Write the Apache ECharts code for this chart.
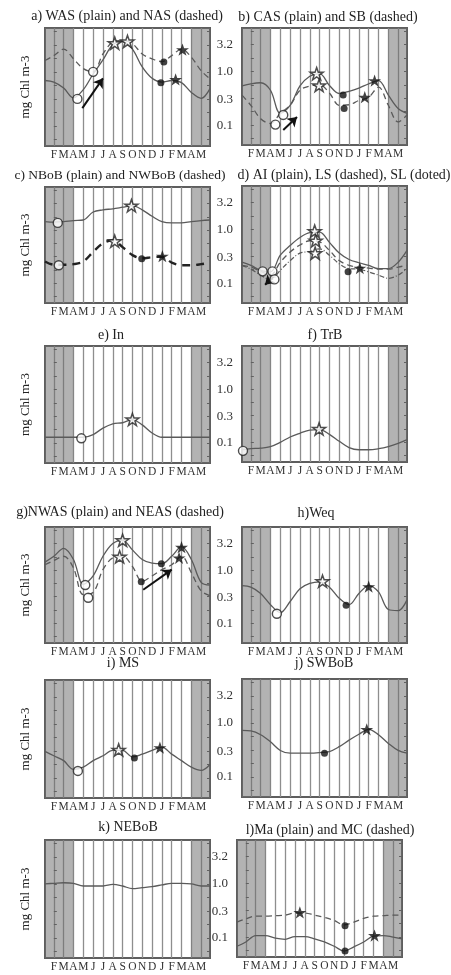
<!DOCTYPE html>
<html><head><meta charset="utf-8">
<script src="https://cdn.jsdelivr.net/npm/echarts@6/dist/echarts.min.js"></script>
<style>html,body{margin:0;padding:0;background:#fff}#c{width:451px;height:975px}</style>
</head><body><div id="c"></div>
<script>
// ---------- axes ----------
const months = ['F','M','A','M','J','J','A','S','O','N','D','J','F','M','A','M'];
const monthX = [0,1,2,3,4,5,6,7,8,9,10,11,12,13,14,15];
const sampleX = [-0.9,0,1,2,3,4,5,6,7,8,9,10,11,12,13,14,15,15.9];
const yTickLabels = ['0.1','0.3','1.0','3.2'];
const yMinorTicks = [-1.25,-1,-0.75,-0.5,-0.25,0,0.25,0.5,0.75];
const grayBefore = 2, grayAfter = 14;
// values: log10(mg Chl m-3) at sampleX
// a) WAS / NAS
const was = [-0.16,-0.19,-0.30,-0.48,-0.33,-0.04,0.22,0.50,0.56,0.42,0.09,-0.12,-0.19,-0.16,-0.20,-0.38,-0.49,-0.31];
const nas = [0.21,0.30,0.42,0.24,0.06,0.00,0.33,0.55,0.58,0.52,0.33,0.24,0.19,0.30,0.42,0.27,0.02,-0.13];
const aOpenCircle = [[2.4,-0.5],[4.0,0.0]];
const aOpenStar = [[6.2,0.53],[7.5,0.56]];
const aFilledCircle = [[10.9,-0.2],[11.2,0.18]];
const aFilledStar = [[12.4,-0.14],[13.1,0.41]];
const aArrow = [[2.9,-0.67],[5.0,-0.12]];
// b) CAS / SB
const cas = [-0.27,-0.23,-0.21,-0.35,-0.78,-0.63,-0.27,-0.09,-0.04,-0.26,-0.41,-0.37,-0.31,-0.23,-0.17,-0.44,-0.69,-0.78];
const sb = [-0.44,-0.63,-0.88,-0.97,-0.78,-0.63,-0.35,-0.27,-0.25,-0.40,-0.63,-0.62,-0.54,-0.48,-0.29,-0.63,-0.94,-0.81];
const bOpenCircle = [[3.3,-0.81],[2.5,-0.99]];
const bOpenStar = [[6.7,-0.04],[6.95,-0.26]];
const bFilledCircle = [[9.4,-0.44],[9.5,-0.69]];
const bFilledStar = [[12.6,-0.17],[11.6,-0.48]];
const bArrow = [[3.3,-1.09],[4.7,-0.85]];
// c) NBoB / NWBoB
const nbob = [0.16,0.15,0.16,0.18,0.19,0.34,0.38,0.40,0.43,0.46,0.38,0.26,0.16,0.135,0.135,0.16,0.18,0.19];
const nwbob = [-0.59,-0.65,-0.65,-0.64,-0.59,-0.41,-0.25,-0.19,-0.32,-0.47,-0.53,-0.51,-0.50,-0.61,-0.66,-0.66,-0.64,-0.61];
const cOpenCircle = [[0.4,0.135],[0.5,-0.66]];
const cOpenStar = [[7.9,0.46],[6.2,-0.21]];
const cFilledCircle = [[8.95,-0.54]];
const cFilledStar = [[11.05,-0.49]];
// d) AI / LS / SL
const ai = [-0.61,-0.67,-0.76,-0.79,-0.48,-0.30,-0.15,-0.06,-0.05,-0.24,-0.44,-0.56,-0.62,-0.67,-0.73,-0.73,-0.61,-0.39];
const ls = [-0.67,-0.70,-0.78,-0.85,-0.61,-0.42,-0.29,-0.21,-0.23,-0.39,-0.58,-0.67,-0.70,-0.72,-0.74,-0.74,-0.70,-0.67];
const sl = [-0.67,-0.74,-0.85,-0.94,-0.76,-0.58,-0.44,-0.41,-0.36,-0.48,-0.64,-0.73,-0.74,-0.79,-0.85,-0.91,-0.85,-0.73];
const dOpenCircle = [[1.2,-0.78],[2.2,-0.78],[2.4,-0.93]];
const dOpenStar = [[6.5,-0.03],[6.6,-0.21],[6.55,-0.44]];
const dFilledCircle = [[9.9,-0.79]];
const dFilledStar = [[11.1,-0.72]];
const dArrow = [[2.3,-0.88],[1.45,-1.03]];
// e) In
const inn = [-0.89,-0.89,-0.89,-0.89,-0.89,-0.84,-0.72,-0.64,-0.62,-0.56,-0.66,-0.81,-0.89,-0.89,-0.89,-0.89,-0.89,-0.89];
const eOpenCircle = [[2.8,-0.91]];
const eOpenStar = [[8.0,-0.56]];
// f) TrB
const trb = [-1.14,-1.12,-1.11,-1.08,-1.0,-0.90,-0.83,-0.77,-0.76,-0.85,-0.98,-1.10,-1.14,-1.14,-1.12,-1.08,-1.02,-0.95];
const fOpenCircle = [[-0.8,-1.16]];
const fOpenStar = [[6.95,-0.75]];
// g) NWAS / NEAS
const nwas = [0.15,0.26,0.41,0.20,-0.27,-0.11,0.26,0.50,0.56,0.38,0.20,0.13,0.12,0.26,0.44,0.20,-0.23,-0.28];
const neas = [0.10,0.18,0.26,0.04,-0.46,-0.42,0.01,0.23,0.26,0.07,-0.21,-0.11,0.01,0.10,0.26,-0.05,-0.39,-0.48];
const gOpenCircle = [[3.2,-0.28],[3.5,-0.52]];
const gOpenStar = [[7.0,0.56],[6.7,0.25]];
const gFilledCircle = [[10.95,0.12],[8.9,-0.22]];
const gFilledStar = [[13.0,0.43],[12.75,0.23]];
const gArrow = [[9.1,-0.37],[12.0,0.01]];
// h) Weq
const weq = [-0.29,-0.32,-0.44,-0.65,-0.80,-0.59,-0.35,-0.25,-0.22,-0.32,-0.53,-0.65,-0.44,-0.29,-0.41,-0.74,-0.76,-0.56];
const hOpenCircle = [[2.65,-0.82]];
const hOpenStar = [[7.3,-0.21]];
const hFilledCircle = [[9.7,-0.66]];
const hFilledStar = [[12.0,-0.31]];
// i) MS
const ms = [-0.51,-0.59,-0.68,-0.84,-0.80,-0.68,-0.59,-0.49,-0.49,-0.61,-0.56,-0.49,-0.43,-0.56,-0.68,-0.80,-0.86,-0.75];
const iOpenCircle = [[2.45,-0.87]];
const iOpenStar = [[6.6,-0.48]];
const iFilledCircle = [[8.2,-0.63]];
const iFilledStar = [[10.8,-0.44]];
// j) SWBoB
const swbob = [-0.14,-0.15,-0.22,-0.35,-0.51,-0.56,-0.56,-0.56,-0.55,-0.53,-0.44,-0.32,-0.21,-0.12,-0.22,-0.38,-0.51,-0.56];
const jFilledCircle = [[7.5,-0.56]];
const jFilledStar = [[11.8,-0.12]];
// k) NEBoB
const nebob = [0.0,0.01,0.02,0.01,-0.04,-0.04,-0.04,-0.01,-0.04,-0.09,-0.07,-0.05,-0.02,0.01,0.01,0.0,-0.04,-0.04];
// l) Ma / MC
const ma = [-1.17,-1.09,-0.97,-0.97,-1.02,-1.04,-0.99,-0.99,-1.03,-1.09,-1.17,-1.26,-1.18,-1.09,-0.98,-0.97,-1.0,-1.03];
const mc = [-0.72,-0.66,-0.61,-0.61,-0.60,-0.59,-0.55,-0.55,-0.59,-0.63,-0.69,-0.77,-0.72,-0.65,-0.61,-0.60,-0.59,-0.59];
const lFilledCircle = [[10.1,-1.26],[10.1,-0.79]];
const lFilledStar = [[5.5,-0.54],[13.1,-0.97]];

const titles = ['a) WAS (plain) and NAS (dashed)','b) CAS (plain) and SB (dashed)',
 'c) NBoB (plain) and NWBoB (dashed)','d) AI (plain), LS (dashed), SL (doted)',
 'e) In','f) TrB','g)NWAS (plain) and NEAS (dashed)','h)Weq','i) MS','j) SWBoB',
 'k) NEBoB','l)Ma (plain) and MC (dashed)'];
const yName = 'mg Chl m-3';

// ---------- styles / layout ----------
const SOLID = {type:'solid', width:1.3, color:'#5a5a5a'};
const DASH = {type:[6,4], width:1.3, color:'#5a5a5a'};
const DOT = {type:[5,2,1,2], width:1.2, color:'#5a5a5a'};
const BOLDDASH = {type:[8,6], width:2.4, color:'#222'};
const STAR = 'path://M50,2 L61.8,36.2 L97.6,36.2 L68.6,57.4 L79.4,91.6 L50,70.5 L20.6,91.6 L31.4,57.4 L2.4,36.2 L38.2,36.2 Z';
const FONT = 'Liberation Serif';
const Y_MIN = -1.37, Y_MAX = 0.81;

const layout = [
 {l:45,t:28,h:118,tx:127,ty:9,fs:14},{l:242,t:28,h:117,tx:328,ty:10,fs:14},
 {l:45,t:187,h:116,tx:120,ty:168,fs:13.5},{l:242,t:186,h:117,tx:344,ty:168,fs:14},
 {l:45,t:346,h:117,tx:111,ty:328,fs:14},{l:242,t:346,h:116,tx:325,ty:328,fs:14},
 {l:45,t:527,h:116,tx:120,ty:505,fs:14},{l:242,t:527,h:116,tx:316,ty:506,fs:14},
 {l:45,t:680,h:118,tx:123,ty:656,fs:14},{l:242,t:679,h:118,tx:324,ty:656,fs:14},
 {l:45,t:840,h:118,tx:128,ty:820,fs:14},{l:237,t:840,h:117,tx:330,ty:823,fs:14}
];
const W = 165;

const panels = [
 {curves:[[was,SOLID],[nas,DASH]], oc:aOpenCircle, os:aOpenStar, fc:aFilledCircle, fs:aFilledStar, arrows:[aArrow]},
 {curves:[[cas,SOLID],[sb,DASH]], oc:bOpenCircle, os:bOpenStar, fc:bFilledCircle, fs:bFilledStar, arrows:[bArrow]},
 {curves:[[nbob,SOLID],[nwbob,BOLDDASH]], oc:cOpenCircle, os:cOpenStar, fc:cFilledCircle, fs:cFilledStar, arrows:[]},
 {curves:[[ai,SOLID],[ls,DASH],[sl,DOT]], oc:dOpenCircle, os:dOpenStar, fc:dFilledCircle, fs:dFilledStar, arrows:[dArrow]},
 {curves:[[inn,SOLID]], oc:eOpenCircle, os:eOpenStar, fc:[], fs:[], arrows:[]},
 {curves:[[trb,SOLID]], oc:fOpenCircle, os:fOpenStar, fc:[], fs:[], arrows:[]},
 {curves:[[nwas,SOLID],[neas,DASH]], oc:gOpenCircle, os:gOpenStar, fc:gFilledCircle, fs:gFilledStar, arrows:[gArrow]},
 {curves:[[weq,SOLID]], oc:hOpenCircle, os:hOpenStar, fc:hFilledCircle, fs:hFilledStar, arrows:[]},
 {curves:[[ms,SOLID]], oc:iOpenCircle, os:iOpenStar, fc:iFilledCircle, fs:iFilledStar, arrows:[]},
 {curves:[[swbob,SOLID]], oc:[], os:[], fc:jFilledCircle, fs:jFilledStar, arrows:[]},
 {curves:[[nebob,SOLID]], oc:[], os:[], fc:[], fs:[], arrows:[]},
 {curves:[[ma,SOLID],[mc,DASH]], oc:[], os:[], fc:lFilledCircle, fs:lFilledStar, arrows:[]}
];

const yTickVals = yTickLabels.map(s => Math.log10(parseFloat(s)));
function yFmt(v){
  let best = 0;
  yTickVals.forEach((t,i)=>{ if (Math.abs(t-v) < Math.abs(yTickVals[best]-v)) best = i; });
  return yTickLabels[best];
}

const option = {animation:false, backgroundColor:'#fff', title:[], grid:[], xAxis:[], yAxis:[], series:[]};

panels.forEach((p, k) => {
  const L = layout[k];
  const isLeft = (k % 2 === 0);
  option.title.push({text:titles[k], left:L.tx, top:L.ty, textAlign:'center', padding:0,
    textStyle:{fontFamily:FONT, fontSize:L.fs, fontWeight:'normal', color:'#222'}});
  option.grid.push({left:L.l, top:L.t, width:W, height:L.h, show:true,
    borderColor:'#5e5e5e', borderWidth:2, backgroundColor:'#fff'});
  option.xAxis.push({type:'value', gridIndex:k, min:sampleX[0], max:sampleX[sampleX.length-1],
    axisLine:{show:false},
    axisTick:{show:false, customValues:monthX},
    splitLine:{show:true, lineStyle:{color:'#8e8e8e', width:1.3}},
    axisLabel:{customValues:monthX, formatter:v => months[Math.round(v)], fontFamily:FONT, fontSize:11.5, color:'#333', margin:3}
  });
  option.yAxis.push({type:'value', gridIndex:k, min:Y_MIN, max:Y_MAX, position:'left',
    name: isLeft ? yName : '', nameLocation:'middle', nameRotate:90, nameGap:13,
    nameTextStyle:{fontFamily:FONT, fontSize:13, color:'#222'},
    axisLine:{show:false}, splitLine:{show:false},
    axisTick:{show:true, inside:true, length:3, customValues:yMinorTicks, lineStyle:{color:'#555'}},
    axisLabel:{show:!isLeft, customValues:yTickVals, formatter:yFmt, fontFamily:FONT, fontSize:13, color:'#333', margin:9}
  });
  option.yAxis.push({type:'value', gridIndex:k, min:Y_MIN, max:Y_MAX, position:'right',
    axisLine:{show:false}, splitLine:{show:false}, axisLabel:{show:false},
    axisTick:{show:true, inside:true, length:3, customValues:yMinorTicks, lineStyle:{color:'#555'}}
  });
  const xi = k, yi = 2*k;
  // shaded Jan-Apr bands
  option.series.push({type:'line', xAxisIndex:xi, yAxisIndex:yi, data:[], silent:true, z:1,
    markArea:{silent:true, itemStyle:{color:'rgba(110,110,110,0.52)'},
      data:[[{xAxis:sampleX[0]},{xAxis:grayBefore}],[{xAxis:grayAfter},{xAxis:sampleX[sampleX.length-1]}]]}
  });
  p.curves.forEach(([vals, style]) => {
    option.series.push({type:'line', xAxisIndex:xi, yAxisIndex:yi, smooth:0.35, symbol:'none', z:3,
      lineStyle:style, data:sampleX.map((x,i)=>[x, vals[i]])});
  });
  p.arrows.forEach(a => {
    option.series.push({type:'lines', coordinateSystem:'cartesian2d', xAxisIndex:xi, yAxisIndex:yi, z:4,
      symbol:['none','arrow'], symbolSize:9, lineStyle:{color:'#111', width:2, opacity:1},
      data:[{coords:a}]});
  });
  if (p.oc.length) option.series.push({type:'scatter', xAxisIndex:xi, yAxisIndex:yi, z:5, symbol:'circle', symbolSize:9,
    itemStyle:{color:'#fff', borderColor:'#222', borderWidth:1.4}, data:p.oc});
  if (p.os.length) option.series.push({type:'scatter', xAxisIndex:xi, yAxisIndex:yi, z:5, symbol:STAR, symbolKeepAspect:true, symbolSize:13,
    itemStyle:{color:'#fff', borderColor:'#222', borderWidth:1.5}, data:p.os});
  if (p.fc.length) option.series.push({type:'scatter', xAxisIndex:xi, yAxisIndex:yi, z:5, symbol:'circle', symbolSize:7,
    itemStyle:{color:'#111'}, data:p.fc});
  if (p.fs.length) option.series.push({type:'scatter', xAxisIndex:xi, yAxisIndex:yi, z:5, symbol:STAR, symbolKeepAspect:true, symbolSize:13,
    itemStyle:{color:'#111'}, data:p.fs});
});

const chart = echarts.init(document.getElementById('c'), null, {renderer:'canvas'});
chart.setOption(option);
</script>
</body></html>
